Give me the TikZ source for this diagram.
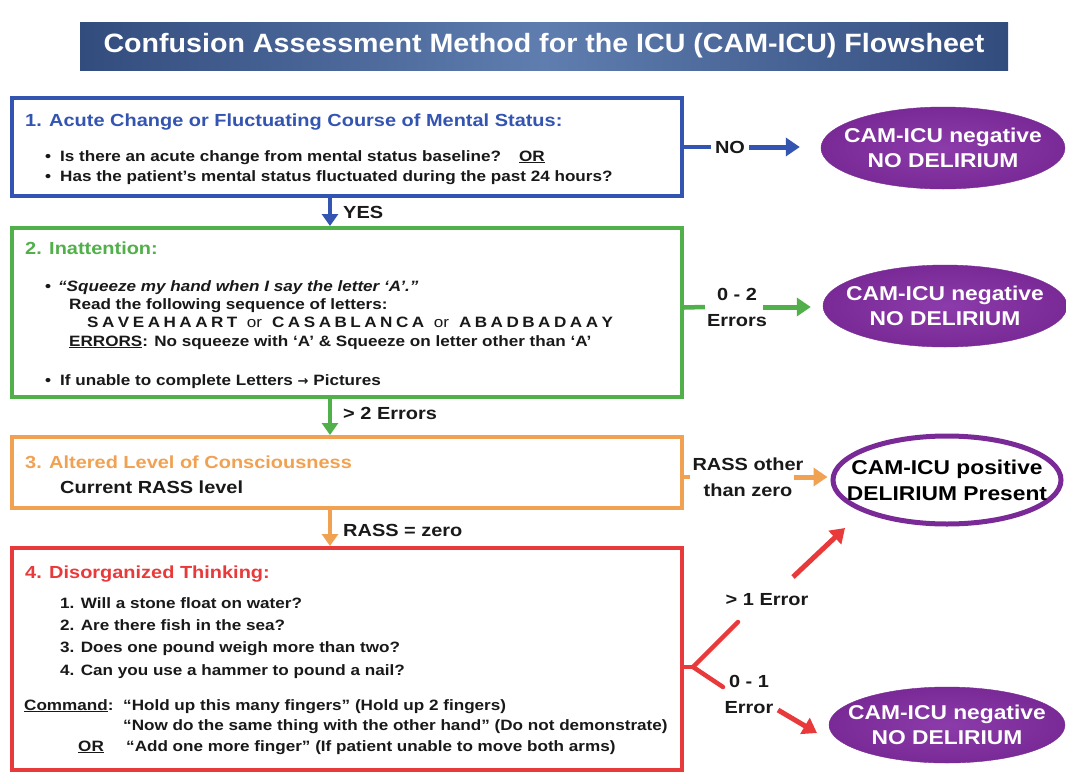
\documentclass[tikz,border=0pt]{standalone}
\usepackage{fontspec}
\setmainfont{Liberation Sans}[FakeStretch=1.14]
\newfontfamily\titlefont{Liberation Sans}[FakeStretch=1.08]
\newfontfamily\dejavu{DejaVu Sans}
\usetikzlibrary{arrows.meta,shapes.geometric,calc}
\definecolor{cBlue}{RGB}{52,84,178}
\definecolor{cGreen}{RGB}{82,176,74}
\definecolor{cOrange}{RGB}{240,162,82}
\definecolor{cRed}{RGB}{232,58,58}
\definecolor{cPurple}{RGB}{122,42,150}
\definecolor{cPurpleL}{RGB}{140,60,170}
\definecolor{cBanD}{RGB}{50,76,125}
\definecolor{cBanL}{RGB}{95,125,175}
\definecolor{cText}{RGB}{25,25,25}
\newcommand{\fsz}[2]{\fontsize{#1}{#2}\selectfont}
\def\myls#1{\ifx#1\relax\else#1\kern3.5pt\expandafter\myls\fi}
\tikzset{
  box/.style={draw=#1, line width=4pt, fill=white, minimum width=670pt, inner sep=0pt},
  txt/.style={anchor=base west, inner sep=0pt, text=cText, font=\bfseries\fsz{15}{18}},
  head/.style={anchor=base west, inner sep=0pt, text=#1, font=\bfseries\fsz{17.5}{20}},
  lbl/.style={inner sep=2pt, text=cText, font=\bfseries\fsz{17.5}{26}, align=center},
  conn/.style={draw=#1, line width=4.5pt},
  arr/.style={draw=#1, line width=5pt, -{Triangle[length=14pt,width=18pt]}},
  varr/.style={draw=#1, line width=4pt, -{Triangle[length=12pt,width=16pt]}},
  negell/.style={ellipse, minimum width=244pt, minimum height=82pt, inner xsep=-24pt, inner ysep=0pt,
     inner color=cPurpleL, outer color=cPurple, draw=cPurple, text=white, align=center,
     font=\bfseries\fsz{20}{25}},
}
\begin{document}
\begin{tikzpicture}[x=1pt,y=-1pt]
\useasboundingbox (0,0) rectangle (1066,774);
\fill[white] (0,0) rectangle (1066,774);

% title banner
\node[minimum width=928pt, minimum height=48pt, inner sep=0pt,
      left color=cBanD, right color=cBanD, middle color=cBanL,
      text=white, font=\titlefont\bfseries\fsz{26.5}{30}] (title) at (544,46)
  {Confusion Assessment Method for the ICU (CAM-ICU) Flowsheet};

% boxes
\node[box=cBlue, minimum height=98pt] (b1) at (347,147) {};
\node[box=cGreen, minimum height=169pt] (b2) at (347,312.5) {};
\node[box=cOrange, minimum height=71pt] (b3) at (347,472.5) {};
\node[box=cRed, minimum height=222pt] (b4) at (347,659) {};

% box 1 text
\node[head=cBlue] (t1) at (25,126) {1. Acute Change or Fluctuating Course of Mental Status:};
\node[txt] (b1a) at (45,161) {•\hspace{9pt}Is there an acute change from mental status baseline?\hspace{18pt}\underline{OR}};
\node[txt] (b1b) at (45,181) {•\hspace{9pt}Has the patient’s mental status fluctuated during the past 24 hours?};

% box 2 text
\node[head=cGreen] (t2) at (25,254) {2. Inattention:};
\node[txt] (b2a) at (45,291) {•\hspace{7pt}{\itshape “Squeeze my hand when I say the letter ‘A’.”}};
\node[txt] (b2b) at (69,309) {Read the following sequence of letters:};
\node[txt] (b2c) at (87,327) {\myls SAVEAHAART\relax\kern6pt{\mdseries or}\kern10pt\myls CASABLANCA\relax\kern6pt{\mdseries or}\kern10pt\myls ABADBADAAY\relax};
\node[txt] (b2d) at (69,346) {\underline{ERRORS}: No squeeze with ‘A’ \& Squeeze on letter other than ‘A’};
\node[txt] (b2e) at (45,385) {•\hspace{9pt}If unable to complete Letters {\dejavu\fsz{13}{14}→} Pictures};

% box 3 text
\node[head=cOrange] (t3) at (25,468) {3. Altered Level of Consciousness};
\node[txt, font=\bfseries\fsz{17.5}{20}] (b3a) at (60,493) {Current RASS level};

% box 4 text
\node[head=cRed] (t4) at (25,578) {4. Disorganized Thinking:};
\node[txt] (q1) at (60,608) {1. Will a stone float on water?};
\node[txt] (q2) at (60,630) {2. Are there fish in the sea?};
\node[txt] (q3) at (60,652) {3. Does one pound weigh more than two?};
\node[txt] (q4) at (60,675) {4. Can you use a hammer to pound a nail?};
\node[txt] (c0) at (24,710) {\underline{Command}:};
\node[txt] (c1) at (123,710) {“Hold up this many fingers” (Hold up 2 fingers)};
\node[txt] (c2) at (123,730) {“Now do the same thing with the other hand” (Do not demonstrate)};
\node[txt] (c3) at (78,751) {\underline{OR}};
\node[txt] (c4) at (126,751) {“Add one more finger” (If patient unable to move both arms)};

% vertical connectors
\draw[varr=cBlue] ([xshift=-17pt]b1.south) -- ([xshift=-17pt]b2.north);
\node[lbl, anchor=west] (yes) at (341,212) {YES};
\draw[varr=cGreen] ([xshift=-17pt]b2.south) -- ([xshift=-17pt]b3.north);
\node[lbl, anchor=west] (gt2) at (341,413) {> 2 Errors};
\draw[varr=cOrange] ([xshift=-17pt]b3.south) -- ([xshift=-17pt]b4.north);
\node[lbl, anchor=west] (rz0) at (341,530) {RASS = zero};

% outcome ellipses
\node[negell] (e1) at (943,148) {CAM-ICU negative\\NO DELIRIUM};
\node[negell] (e2) at (945,306) {CAM-ICU negative\\NO DELIRIUM};
\node[ellipse, minimum width=228pt, minimum height=88pt, inner xsep=-24pt, inner ysep=0pt, draw=cPurple,
      line width=5pt, fill=white, text=black, align=center, font=\bfseries\fsz{20}{26}]
      (e3) at (947,480) {CAM-ICU positive\\DELIRIUM Present};
\node[negell, minimum width=236pt, minimum height=76pt] (e4) at (947,725) {CAM-ICU negative\\NO DELIRIUM};

% box 1 -> NO
\node[lbl, inner sep=4pt] (no) at (730,147) {NO};
\draw[conn=cBlue] (b1.east) -- (no.west);
\draw[arr=cBlue, shorten >=21pt] (no.east) -- (no.east -| e1.west);

% box 2 -> 0-2 Errors
\node[lbl] (g02) at (737,307) {0 - 2\\Errors};
\draw[conn=cGreen] ([yshift=5pt]b2.east) -- (g02.west);
\draw[arr=cGreen, shorten >=12pt, shorten <=-6pt] (g02.east) -- (g02.east -| e2.west);

% box 3 -> RASS other than zero
\node[lbl] (rz) at (748,477) {RASS other\\than zero};
\draw[conn=cOrange] (b3.east |- rz.west) -- (rz.west);
\draw[arr=cOrange, shorten >=3pt, shorten <=-12pt] (rz.east) -- (rz.east -| e3.west);

% box 4 branches
\coordinate (j) at (693,667);
\coordinate (ra) at (738,622);
\coordinate (rb) at (793,577);
\coordinate (rc) at (845,528);
\coordinate (rd) at (723,687);
\coordinate (re) at (778,710);
\coordinate (rf) at (817,733);
\draw[conn=cRed] ([yshift=-8pt]b4.east) -- (j);
\draw[conn=cRed, line cap=round] (j) -- (ra);
\draw[conn=cRed, line cap=round] (j) -- (rd);
\draw[arr=cRed] (rb) -- (rc);
\draw[arr=cRed] (re) -- (rf);
\node[lbl] (gt1) at (767,600) {> 1 Error};
\node[lbl] (l01) at (749,694) {0 - 1\\Error};
\end{tikzpicture}
\end{document}
